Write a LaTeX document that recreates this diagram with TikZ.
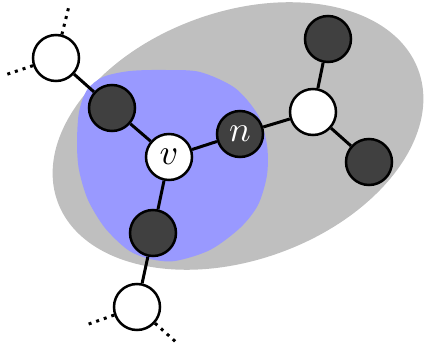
\documentclass[tikz,border=0pt]{standalone}
\usetikzlibrary{calc}
\definecolor{ellgray}{RGB}{191,191,191}
\definecolor{blobblue}{RGB}{153,153,255}
\definecolor{darknode}{RGB}{64,64,64}
\newcommand{\biglabel}[1]{\scalebox{3.6}{$#1$}}
\tikzset{
  wnode/.style={circle,draw=black,line width=2.5pt,fill=white,minimum size=46pt,inner sep=0pt},
  dnode/.style={circle,draw=black,line width=2.5pt,fill=darknode,minimum size=46pt,inner sep=0pt,text=white},
  edge/.style={line width=3pt,draw=black},
  dotline/.style={line width=3pt,dash pattern=on 3pt off 5pt,draw=black}
}
\begin{document}
\begin{tikzpicture}[x=1pt,y=1pt]
\useasboundingbox (0,0) rectangle (424,-347);
% gray ellipse
\fill[ellgray,rotate around={20:(238,-136)}] (238,-136) ellipse [x radius=192, y radius=124];
% blue blob
\fill[blobblue] plot[smooth cycle] coordinates {
 (77,-143) (79,-112) (87,-90) (103,-77) (130,-71) (165,-70) (200,-72) (235,-88) (258,-115)
 (267,-145) (267,-175) (258,-205) (240,-228) (210,-250) (175,-261) (150,-259)
 (128,-250) (105,-228) (88,-200) (79,-170)};
% nodes
\node[wnode] (w1) at (56,-58) {};
\node[dnode] (d1) at (112,-108) {};
\node[wnode] (v) at (169,-157) {\biglabel{v}};
\node[dnode] (n) at (240,-134) {\biglabel{n}};
\node[wnode] (w2) at (313,-112) {};
\node[dnode] (d2) at (328,-39) {};
\node[dnode] (d3) at (369,-162) {};
\node[dnode] (d4) at (153,-233) {};
\node[wnode] (w3) at (137,-307) {};
% dangling ends
\coordinate (e1) at (69,-6);
\coordinate (e2) at (5,-75);
\coordinate (e3) at (86,-325);
\coordinate (e4) at (177,-343);
% edges
\draw[edge] (w1) -- (d1);
\draw[edge] (d1) -- (v);
\draw[edge] (v) -- (n);
\draw[edge] (v) -- (d4);
\draw[edge] (d4) -- (w3);
\draw[edge] (n) -- (w2);
\draw[edge] (w2) -- (d2);
\draw[edge] (w2) -- (d3);
\draw[dotline] (w1) -- (e1);
\draw[dotline] (w1) -- (e2);
\draw[dotline] (w3) -- (e3);
\draw[dotline] (w3) -- (e4);
\end{tikzpicture}
\end{document}
